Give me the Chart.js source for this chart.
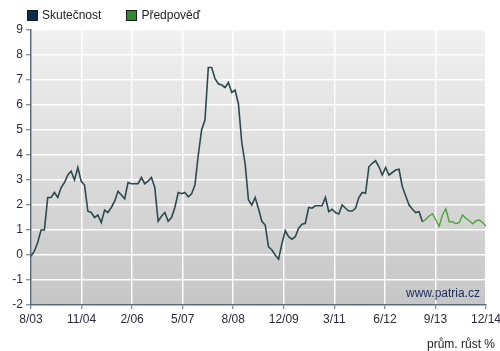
<!DOCTYPE html>
<html>
<head>
<meta charset="utf-8">
<script src="https://cdn.jsdelivr.net/npm/chart.js@4/dist/chart.umd.min.js"></script>
<style>
  html, body { margin: 0; padding: 0; background: #fff; }
  #wrap { position: relative; width: 500px; height: 351px; font-family: Arial, 'Liberation Sans', sans-serif; }
  #legend { position: absolute; left: 27px; top: 8px; display: flex; font-size: 12px; color: #222; }
  #legend .item { display: flex; align-items: center; margin-right: 25px; }
  #legend .box { width: 9px; height: 9px; border: 1px solid #1a1a1a; margin-right: 4px; }
</style>
</head>
<body>
<div id="wrap">
  <div id="legend"></div>
  <canvas id="c" width="500" height="351"></canvas>
</div>
<script>
// monthly values, 8/03 .. 12/14 (month index 0..136)
const actualValues = [
  -0.05, 0.15, 0.5, 1.0, 1.0, 2.3, 2.3, 2.5, 2.3, 2.7,
  2.9, 3.2, 3.35, 3.0, 3.5, 2.95, 2.8, 1.75, 1.7, 1.5,
  1.6, 1.3, 1.8, 1.7, 1.9, 2.15, 2.55, 2.4, 2.25, 2.9,
  2.85, 2.85, 2.85, 3.1, 2.85, 2.95, 3.1, 2.7, 1.35, 1.55,
  1.7, 1.35, 1.5, 1.9, 2.5, 2.45, 2.5, 2.33, 2.45, 2.8,
  4.0, 5.0, 5.4, 7.5, 7.5, 7.05, 6.85, 6.8, 6.7, 6.9,
  6.5, 6.6, 6.05, 4.5, 3.65, 2.2, 2.0, 2.3, 1.85, 1.35,
  1.2, 0.33, 0.2, 0.0, -0.17, 0.45, 0.97, 0.73, 0.63, 0.73,
  1.07, 1.23, 1.27, 1.9, 1.87, 1.97, 1.97, 1.97, 2.3, 1.73,
  1.83, 1.7, 1.64, 2.0, 1.87, 1.76, 1.76, 1.87, 2.3, 2.5,
  2.47, 3.53, 3.67, 3.77, 3.53, 3.2, 3.5, 3.2, 3.3, 3.4,
  3.43, 2.73, 2.36, 2.0, 1.83, 1.7, 1.73, 1.33
];
const forecastStart = 117;
const forecastValues = [
  1.33, 1.43, 1.56, 1.65, 1.4, 1.15, 1.6, 1.85, 1.33, 1.33,
  1.25, 1.3, 1.6, 1.47, 1.37, 1.25, 1.37, 1.4, 1.3, 1.15
];
const xTickLabels = ['8/03', '11/04', '2/06', '5/07', '8/08', '12/09', '3/11', '6/12', '9/13', '12/14'];
const monthCount = 136;
const seriesNames = ['Skutečnost', 'Předpověď'];

const FONT = "Arial, 'Liberation Sans', sans-serif";
const AXIS = '#5b6b7c';

const plotBg = {
  id: 'plotBg',
  beforeDraw(chart) {
    const { ctx, chartArea: a } = chart;
    const g = ctx.createLinearGradient(0, a.top, 0, a.bottom);
    g.addColorStop(0, '#f1f1f1');
    g.addColorStop(1, '#c6c6c6');
    ctx.save();
    ctx.fillStyle = g;
    ctx.fillRect(a.left, a.top, a.right - a.left, a.bottom - a.top);
    ctx.restore();
  },
  afterDraw(chart) {
    const { ctx, chartArea: a } = chart;
    ctx.save();
    ctx.font = '12px ' + FONT;
    ctx.fillStyle = '#1c2b5a';
    ctx.textAlign = 'right';
    ctx.textBaseline = 'alphabetic';
    ctx.fillText('www.patria.cz', a.right - 6, a.bottom - 8);
    ctx.fillStyle = '#222';
    ctx.fillText('prům. růst %', 495, 348);
    ctx.restore();
  }
};

const chart = new Chart(document.getElementById('c'), {
  type: 'line',
  data: {
    datasets: [
      {
        label: seriesNames[0],
        data: actualValues.map((v, i) => ({ x: i, y: v })),
        borderColor: '#2c4a4e',
        borderWidth: 1.6,
        pointRadius: 0,
        tension: 0,
        legendColor: '#0d2b4e'
      },
      {
        label: seriesNames[1],
        data: forecastValues.map((v, i) => ({ x: forecastStart + i, y: v })),
        borderColor: '#4ea03f',
        borderWidth: 1.4,
        pointRadius: 0,
        tension: 0,
        legendColor: '#2f8a2f'
      }
    ]
  },
  options: {
    responsive: false,
    animation: false,
    layout: { padding: { top: 30, right: 14, left: 0, bottom: 0 } },
    plugins: {
      legend: { display: false },
      tooltip: { enabled: false }
    },
    scales: {
      x: {
        type: 'linear',
        min: 0,
        max: monthCount,
        afterBuildTicks(scale) {
          scale.ticks = xTickLabels.map((_, i) => ({ value: i * monthCount / (xTickLabels.length - 1) }));
        },
        afterFit(scale) {
          scale.height = 46;
          scale.paddingLeft = 0;
          scale.paddingRight = 0;
        },
        ticks: {
          autoSkip: false,
          maxRotation: 0,
          padding: 3,
          color: '#2a2a3a',
          font: { family: FONT, size: 12 },
          callback: (v, i) => xTickLabels[i]
        },
        grid: { color: 'rgba(255,255,255,0.95)', lineWidth: 1.5, tickLength: 4, tickColor: AXIS, tickWidth: 1 },
        border: { color: AXIS, width: 1.5 }
      },
      y: {
        min: -2,
        max: 9,
        afterFit(scale) { scale.width = 31; },
        ticks: {
          stepSize: 1,
          padding: 3,
          color: '#2a2a3a',
          font: { family: FONT, size: 12 }
        },
        grid: { color: 'rgba(255,255,255,0.95)', lineWidth: 1.5, tickLength: 5, tickColor: AXIS, tickWidth: 1 },
        border: { color: AXIS, width: 1.5 }
      }
    }
  },
  plugins: [plotBg]
});

// legend built from the datasets
const legend = document.getElementById('legend');
chart.data.datasets.forEach(ds => {
  const item = document.createElement('div');
  item.className = 'item';
  const box = document.createElement('span');
  box.className = 'box';
  box.style.background = ds.legendColor;
  const txt = document.createElement('span');
  txt.textContent = ds.label;
  item.appendChild(box);
  item.appendChild(txt);
  legend.appendChild(item);
});
</script>
</body>
</html>
